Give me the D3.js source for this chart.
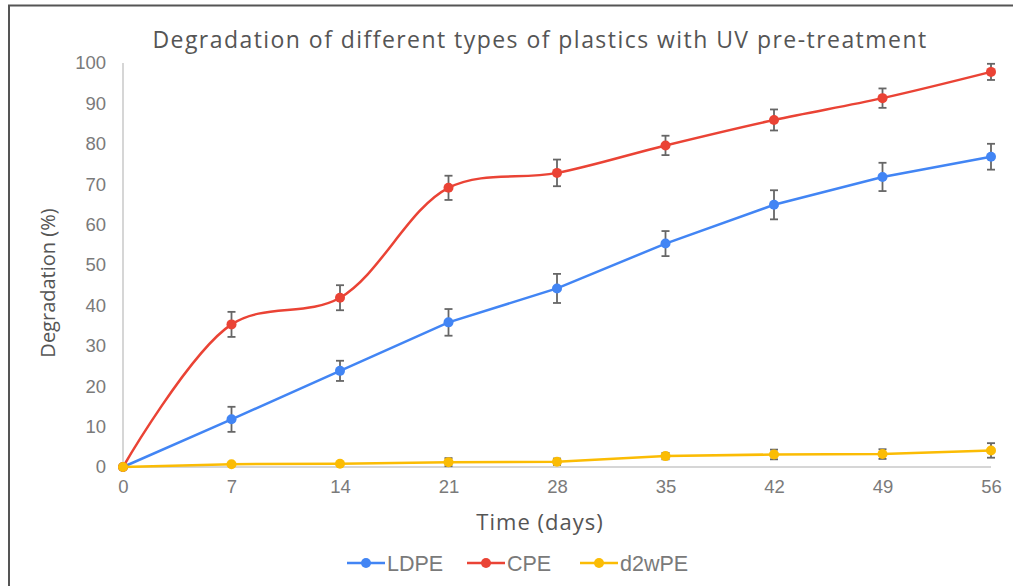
<!DOCTYPE html>
<html>
<head>
<meta charset="utf-8">
<script src="https://cdn.jsdelivr.net/npm/d3@7"></script>
<style>
  body { margin: 0; background: #fff; }
  svg text { fill: #555; }
</style>
</head>
<body>
<div id="chart"><svg></svg></div>
<script>
// data
var days = [0, 7, 14, 21, 28, 35, 42, 49, 56];
var ldpe = [0, 11.8, 23.8, 35.8, 44.2, 55.3, 64.9, 71.8, 76.8];
var ldpeErr = [0, 3.1, 2.5, 3.3, 3.6, 3.1, 3.6, 3.5, 3.2];
var cpe = [0, 35.3, 41.9, 69.1, 72.8, 79.6, 85.9, 91.3, 97.8];
var cpeErr = [0, 3.1, 3.1, 3.0, 3.3, 2.4, 2.6, 2.4, 2.0];
var d2wpe = [0, 0.7, 0.8, 1.2, 1.3, 2.7, 3.1, 3.2, 4.1];
var d2wpeErr = [0, 0, 0, 1.0, 0.8, 0.8, 1.2, 1.2, 1.8];
var yTicks = [0, 10, 20, 30, 40, 50, 60, 70, 80, 90, 100];

var series = [
  { name: "LDPE", values: ldpe, err: ldpeErr, color: "#4285f4", curve: d3.curveLinear },
  { name: "CPE", values: cpe, err: cpeErr, color: "#ea4335", curve: d3.curveCatmullRom.alpha(0.5) },
  { name: "d2wPE", values: d2wpe, err: d2wpeErr, color: "#fbbc04", curve: d3.curveLinear }
];

var W = 1013, H = 586;
var L = 123, R = 22, T = 63, B = 119;

var svg = d3.select("#chart svg")
    .attr("width", W)
    .attr("height", H);

// frame (left + top only)
svg.append("path")
    .attr("d", "M9,586 V5.5 H1013")
    .attr("fill", "none")
    .attr("stroke", "#555")
    .attr("stroke-width", 2);

var x = d3.scaleLinear().domain([0, 56]).range([L, W - R]);
var y = d3.scaleLinear().domain([0, 100]).range([H - B, T]);

// axes lines
svg.append("line")
    .attr("x1", x(0)).attr("x2", x(0))
    .attr("y1", y(100)).attr("y2", y(0))
    .attr("stroke", "#d6d6d6").attr("stroke-width", 2);
svg.append("line")
    .attr("x1", x(0)).attr("x2", x(56))
    .attr("y1", y(0)).attr("y2", y(0))
    .attr("stroke", "#d6d6d6").attr("stroke-width", 2);

var gy = svg.append("g")
    .attr("transform", "translate(" + L + ",0)")
    .call(d3.axisLeft(y).tickValues(yTicks).tickSize(0).tickPadding(17));
gy.select(".domain").remove();
gy.selectAll("text")
    .style("font-family", "Liberation Sans, Arial, sans-serif")
    .style("font-size", "18.5px")
    .style("fill", "#7a7a7a");

var gx = svg.append("g")
    .attr("transform", "translate(0," + (H - B) + ")")
    .call(d3.axisBottom(x).tickValues(days).tickSize(0).tickPadding(13));
gx.select(".domain").remove();
gx.selectAll("text")
    .style("font-family", "Liberation Sans, Arial, sans-serif")
    .style("font-size", "18.5px")
    .style("fill", "#7a7a7a");

// titles
svg.append("text")
    .attr("x", 540).attr("y", 48)
    .attr("text-anchor", "middle")
    .style("font-family", "Open Sans, sans-serif")
    .style("font-size", "23px")
    .style("letter-spacing", "1.45px")
    .text("Degradation of different types of plastics with UV pre-treatment");

svg.append("text")
    .attr("x", 540).attr("y", 530)
    .attr("text-anchor", "middle")
    .style("font-family", "Open Sans, sans-serif")
    .style("font-size", "22px")
    .style("letter-spacing", "1px")
    .text("Time (days)");

svg.append("text")
    .attr("transform", "translate(55,283) rotate(-90)")
    .attr("text-anchor", "middle")
    .style("font-family", "Open Sans, sans-serif")
    .style("font-size", "20px")
    .text("Degradation (%)");

// series
var gData = svg.append("g").attr("class", "data");

series.forEach(function(s) {
  var pts = days.map(function(d, i) { return { d: d, v: s.values[i], e: s.err[i] }; });
  var line = d3.line()
      .x(function(p) { return x(p.d); })
      .y(function(p) { return y(p.v); })
      .curve(s.curve);

  gData.append("path")
      .datum(pts)
      .attr("d", line)
      .attr("fill", "none")
      .attr("stroke", s.color)
      .attr("stroke-width", 2.5);

  var eb = gData.append("g")
      .selectAll("g")
      .data(pts.filter(function(p) { return p.e > 0; }))
      .enter().append("g")
      .attr("stroke", "#666")
      .attr("stroke-width", 1.8);
  eb.append("line")
      .attr("x1", function(p) { return x(p.d); })
      .attr("x2", function(p) { return x(p.d); })
      .attr("y1", function(p) { return y(p.v + p.e); })
      .attr("y2", function(p) { return y(p.v - p.e); });
  eb.append("line")
      .attr("x1", function(p) { return x(p.d) - 4; })
      .attr("x2", function(p) { return x(p.d) + 4; })
      .attr("y1", function(p) { return y(p.v + p.e); })
      .attr("y2", function(p) { return y(p.v + p.e); });
  eb.append("line")
      .attr("x1", function(p) { return x(p.d) - 4; })
      .attr("x2", function(p) { return x(p.d) + 4; })
      .attr("y1", function(p) { return y(p.v - p.e); })
      .attr("y2", function(p) { return y(p.v - p.e); });

  gData.append("g")
      .selectAll("circle")
      .data(pts)
      .enter().append("circle")
      .attr("cx", function(p) { return x(p.d); })
      .attr("cy", function(p) { return y(p.v); })
      .attr("r", 5)
      .attr("fill", s.color);
});

// legend
var legendX = [347, 467, 580];
var legend = svg.append("g")
    .selectAll("g")
    .data(series)
    .enter().append("g")
    .attr("transform", function(s, i) { return "translate(" + legendX[i] + ",563)"; });
legend.append("line")
    .attr("x1", 0).attr("x2", 38)
    .attr("stroke", function(s) { return s.color; })
    .attr("stroke-width", 2.5);
legend.append("circle")
    .attr("cx", 19).attr("r", 5)
    .attr("fill", function(s) { return s.color; });
legend.append("text")
    .attr("x", 40).attr("y", 8)
    .style("font-family", "Liberation Sans, Arial, sans-serif")
    .style("font-size", "21.5px")
    .style("fill", "#7a7a7a")
    .text(function(s) { return s.name; });
</script>
</body>
</html>
